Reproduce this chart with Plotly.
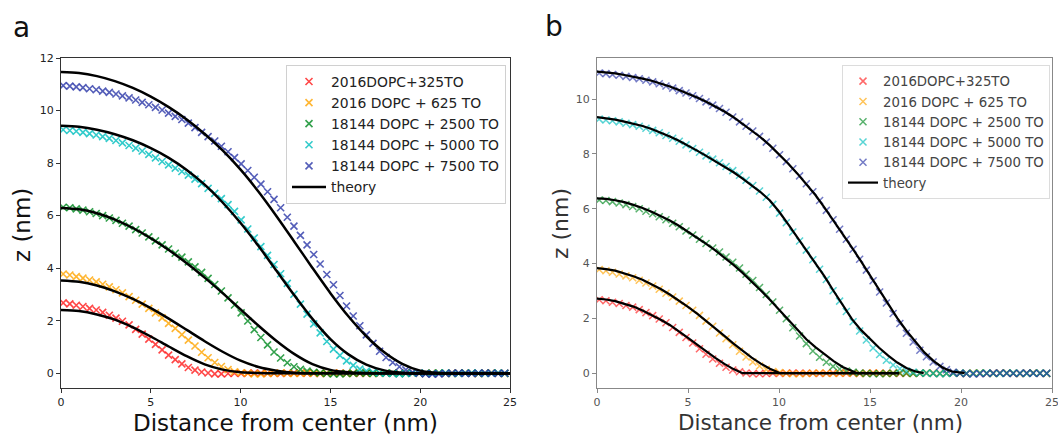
import plotly.graph_objects as go

# ---------------- data ----------------
X = [0.12, 0.49, 0.85, 1.22, 1.59, 1.96, 2.32, 2.69, 3.06, 3.42, 3.79, 4.16, 4.52, 4.89,
     5.26, 5.63, 5.99, 6.36, 6.73, 7.09, 7.46, 7.83, 8.19, 8.56, 8.93, 9.30, 9.66, 10.03,
     10.40, 10.76, 11.13, 11.50, 11.86, 12.23, 12.60, 12.97, 13.33, 13.70, 14.07, 14.43,
     14.80, 15.17, 15.53, 15.90, 16.27, 16.64, 17.00, 17.37, 17.74, 18.10, 18.47, 18.84,
     19.20, 19.57, 19.94, 20.30, 20.67, 21.04, 21.41, 21.77, 22.14, 22.51, 22.87, 23.24,
     23.61, 23.97, 24.34, 24.71]

red_z = [2.68, 2.64, 2.59, 2.54, 2.47, 2.41, 2.32, 2.21, 2.10, 1.98, 1.84, 1.67, 1.49, 1.30,
         1.10, 0.89, 0.69, 0.52, 0.36, 0.22, 0.12, 0.05, 0.01, -0.02, -0.02, -0.01,
         0.00, -0.01, 0.00, 0.01, 0.00, 0.00, 0.00, -0.01, 0.00, 0.01, 0.00, 0.00,
         0.00, -0.01, 0.00, 0.01, 0.00, 0.00, 0.00, -0.01, 0.00, 0.01, 0.00, 0.00,
         0.00, -0.01, 0.00, 0.01, 0.00, 0.00, 0.00, -0.01, 0.00, 0.01, 0.00, 0.00,
         0.00, -0.01, 0.00, 0.01, 0.00, 0.00]
orange_z = [3.78, 3.74, 3.68, 3.62, 3.55, 3.48, 3.39, 3.29, 3.18, 3.06, 2.92, 2.78, 2.63, 2.47,
            2.30, 2.11, 1.90, 1.71, 1.47, 1.26, 1.04, 0.80, 0.59, 0.41, 0.26, 0.14, 0.06,
            0.02, 0.00, -0.02, -0.02, -0.01, 0.00, 0.01, 0.00, -0.01, 0.00, 0.01, 0.00,
            -0.01, 0.00, 0.01, 0.00, -0.01, 0.00, 0.01, 0.00, -0.01, 0.00, 0.01, 0.00,
            -0.01, 0.00, 0.01, 0.00, -0.01, 0.00, 0.01, 0.00, -0.01, 0.00, 0.01, 0.00,
            -0.01, 0.00, 0.01, 0.00, -0.01]
green_z = [6.32, 6.30, 6.26, 6.21, 6.15, 6.08, 6.00, 5.91, 5.82, 5.71, 5.60, 5.47, 5.34, 5.19,
           5.04, 4.89, 4.73, 4.57, 4.42, 4.24, 4.05, 3.84, 3.61, 3.38, 3.13, 2.87, 2.60,
           2.30, 1.99, 1.66, 1.36, 1.08, 0.81, 0.58, 0.40, 0.25, 0.15, 0.08, 0.04, 0.01,
           -0.01, -0.02, -0.02, -0.01, 0.00, 0.01, 0.00, -0.01, 0.00, 0.01, 0.00, -0.01,
           0.00, 0.01, 0.00, -0.01, 0.00, 0.01, 0.00, -0.01, 0.00, 0.01, 0.00, -0.01,
           0.00, 0.01, 0.00, -0.01]
cyan_z = [9.27, 9.24, 9.21, 9.17, 9.12, 9.07, 9.01, 8.94, 8.86, 8.77, 8.67, 8.57, 8.46, 8.33,
          8.20, 8.06, 7.93, 7.81, 7.68, 7.54, 7.39, 7.22, 7.04, 6.85, 6.65, 6.42, 6.16,
          5.84, 5.49, 5.15, 4.82, 4.49, 4.14, 3.79, 3.42, 3.01, 2.63, 2.25, 1.88, 1.54,
          1.21, 0.92, 0.68, 0.47, 0.30, 0.16, 0.08, 0.04, 0.01, 0.00, -0.01, -0.02,
          -0.01, 0.00, 0.01, 0.00, -0.01, 0.00, 0.01, 0.00, -0.01, 0.00, 0.01, 0.00,
          -0.01, 0.00, 0.01, 0.00]
blue_z = [10.95, 10.93, 10.90, 10.87, 10.83, 10.79, 10.74, 10.69, 10.63, 10.56, 10.48, 10.40,
          10.31, 10.22, 10.12, 10.02, 9.90, 9.78, 9.66, 9.52, 9.35, 9.17, 9.01, 8.84, 8.64,
          8.43, 8.21, 7.97, 7.72, 7.46, 7.20, 6.91, 6.62, 6.30, 5.94, 5.60, 5.25, 4.89,
          4.52, 4.16, 3.76, 3.37, 2.96, 2.56, 2.18, 1.81, 1.46, 1.14, 0.84, 0.60, 0.41,
          0.25, 0.13, 0.04, 0.00, -0.02, -0.03, -0.02, -0.01, 0.00, 0.01, 0.00, -0.01,
          0.00, 0.01, 0.00, -0.01, 0.00]

series_names = ["2016DOPC+325TO", "2016 DOPC + 625 TO", "18144 DOPC + 2500 TO",
                "18144 DOPC + 5000 TO", "18144 DOPC + 7500 TO"]
series_z = [red_z, orange_z, green_z, cyan_z, blue_z]
series_colors = ["#ff1a1a", "#ffa500", "#008a20", "#00bfbf", "#2a36a8"]

# theory curves, panel a
TA_X = [0, 1, 2, 3, 4, 5, 6, 7, 8, 9, 10, 11, 12, 13, 14, 15, 16, 17, 18, 19, 20, 21, 22, 25]
ta_red = [2.41, 2.37, 2.24, 2.04, 1.75, 1.40, 1.02, 0.65, 0.34, 0.14, 0.04, 0.01,
          0.00, 0.00, 0.00, 0.00, 0.00, 0.00, 0.00, 0.00, 0.00, 0.00, 0.00, 0.00]
ta_orange = [3.53, 3.48, 3.34, 3.12, 2.83, 2.48, 2.08, 1.65, 1.22, 0.82, 0.48, 0.24,
             0.10, 0.02, 0.00, 0.00, 0.00, 0.00, 0.00, 0.00, 0.00, 0.00, 0.00, 0.00]
ta_green = [6.29, 6.24, 6.09, 5.85, 5.53, 5.14, 4.69, 4.19, 3.64, 3.05, 2.43, 1.81,
            1.23, 0.73, 0.35, 0.13, 0.04, 0.01, 0.00, 0.00, 0.00, 0.00, 0.00, 0.00]
ta_cyan = [9.42, 9.38, 9.27, 9.10, 8.87, 8.57, 8.20, 7.74, 7.18, 6.50, 5.72, 4.84,
           3.90, 2.96, 2.07, 1.30, 0.72, 0.33, 0.11, 0.02, 0.00, 0.00, 0.00, 0.00]
ta_blue = [11.47, 11.43, 11.31, 11.12, 10.86, 10.53, 10.13, 9.66, 9.11, 8.48, 7.75, 6.91,
           5.98, 5.00, 4.01, 3.05, 2.17, 1.41, 0.80, 0.36, 0.10, 0.01, 0.00, 0.00]

# theory curves, panel b
tb_red_x = [0, 0.5, 1, 1.5, 2, 2.5, 3, 3.5, 4, 4.5, 5, 5.5, 6, 6.5, 7, 7.5, 8.0, 16.6]
tb_red_z = [2.72, 2.69, 2.63, 2.54, 2.43, 2.29, 2.13, 1.95, 1.76, 1.54, 1.29, 1.04, 0.79,
            0.56, 0.34, 0.15, 0.00, 0.00]
tb_orange_x = [0, 0.5, 1, 1.5, 2, 2.5, 3, 3.5, 4, 4.5, 5, 5.5, 6, 6.5, 7, 7.5, 8, 8.5, 9,
               9.5, 10.07, 16.6]
tb_orange_z = [3.83, 3.80, 3.74, 3.65, 3.54, 3.41, 3.25, 3.07, 2.87, 2.65, 2.42, 2.17, 1.91,
               1.64, 1.36, 1.08, 0.82, 0.57, 0.35, 0.16, 0.00, 0.00]
tb_green_x = [0, 0.5, 1, 1.5, 2, 2.5, 3, 3.5, 4, 4.5, 5, 5.5, 6, 6.5, 7, 7.5, 8, 8.5, 9,
              9.5, 10, 10.5, 11, 11.5, 12, 12.5, 13, 13.5, 14, 14.3, 16.6]
tb_green_z = [6.38, 6.36, 6.31, 6.24, 6.14, 6.03, 5.89, 5.74, 5.57, 5.38, 5.17, 4.95, 4.72,
              4.48, 4.22, 3.95, 3.66, 3.35, 3.02, 2.68, 2.32, 1.93, 1.57, 1.24, 0.95, 0.68,
              0.44, 0.23, 0.07, 0.00, 0.00]
tb_cyan_x = [0, 0.5, 1, 1.5, 2, 2.5, 3, 3.5, 4, 4.5, 5, 5.5, 6, 6.5, 7, 7.5, 8, 8.5, 9,
             9.5, 10, 10.5, 11, 11.5, 12, 12.5, 13, 13.5, 14, 14.5, 15, 15.5, 16, 16.5, 17,
             17.5, 17.95]
tb_cyan_z = [9.34, 9.30, 9.25, 9.18, 9.11, 9.02, 8.91, 8.78, 8.64, 8.48, 8.31, 8.12, 7.93,
             7.74, 7.54, 7.33, 7.10, 6.86, 6.60, 6.30, 5.90, 5.44, 4.96, 4.49, 4.02, 3.53,
             3.00, 2.47, 1.98, 1.58, 1.24, 0.93, 0.64, 0.39, 0.19, 0.06, 0.00]
tb_blue_x = [0, 0.5, 1, 1.5, 2, 2.5, 3, 3.5, 4, 4.5, 5, 5.5, 6, 6.5, 7, 7.5, 8, 8.5, 9,
             9.5, 10, 10.5, 11, 11.5, 12, 12.5, 13, 13.5, 14, 14.5, 15, 15.5, 16, 16.5, 17,
             17.5, 18, 18.5, 19, 19.5, 20.2]
tb_blue_z = [11.00, 10.98, 10.94, 10.88, 10.82, 10.75, 10.67, 10.57, 10.46, 10.33, 10.20,
             10.06, 9.90, 9.73, 9.55, 9.34, 9.10, 8.86, 8.60, 8.31, 7.99, 7.65, 7.29, 6.91,
             6.50, 6.04, 5.57, 5.08, 4.59, 4.09, 3.57, 3.04, 2.51, 2.01, 1.55, 1.13, 0.75,
             0.44, 0.20, 0.06, 0.00]

X_TICKS = [0, 5, 10, 15, 20, 25]
YA_TICKS = [0, 2, 4, 6, 8, 10, 12]
YB_TICKS = [0, 2, 4, 6, 8, 10]

for z in series_z:
    assert len(z) == len(X), len(z)
for t in (ta_red, ta_orange, ta_green, ta_cyan, ta_blue):
    assert len(t) == len(TA_X), len(t)
for tx, tz in ((tb_red_x, tb_red_z), (tb_orange_x, tb_orange_z), (tb_green_x, tb_green_z),
               (tb_cyan_x, tb_cyan_z), (tb_blue_x, tb_blue_z)):
    assert len(tx) == len(tz), (len(tx), len(tz))

FONT = "DejaVu Sans"
W, H = 1058, 436

fig = go.Figure()

# ---------- panel a ----------
for name, z, c in zip(series_names, series_z, series_colors):
    fig.add_trace(go.Scatter(
        x=X, y=z, mode="markers", name=name, xaxis="x", yaxis="y", legend="legend",
        marker=dict(symbol="x-thin", size=7, color=c, opacity=0.8,
                    line=dict(width=1.6, color=c))))
for i, tz in enumerate((ta_red, ta_orange, ta_green, ta_cyan, ta_blue)):
    fig.add_trace(go.Scatter(
        x=TA_X, y=tz, mode="lines", name="theory", showlegend=(i == 0),
        xaxis="x", yaxis="y", legend="legend",
        line=dict(color="black", width=2.5, shape="spline", smoothing=0.8)))

# ---------- panel b ----------
for name, z, c in zip(series_names, series_z, series_colors):
    fig.add_trace(go.Scatter(
        x=X, y=z, mode="markers", name=name, xaxis="x2", yaxis="y2", legend="legend2",
        marker=dict(symbol="x-thin", size=7, color=c, opacity=0.65,
                    line=dict(width=1.5, color=c))))
for i, (tx, tz) in enumerate(((tb_red_x, tb_red_z), (tb_orange_x, tb_orange_z),
                              (tb_green_x, tb_green_z), (tb_cyan_x, tb_cyan_z),
                              (tb_blue_x, tb_blue_z))):
    fig.add_trace(go.Scatter(
        x=tx, y=tz, mode="lines", name="theory", showlegend=(i == 0),
        xaxis="x2", yaxis="y2", legend="legend2",
        line=dict(color="black", width=2.2)))


def px_x(p):
    return p / W


def px_y(p):
    return (H - p) / H


ax_common = dict(showgrid=False, zeroline=False, showline=True, mirror=True,
                 ticks="outside", ticklen=4, tickwidth=1, ticklabeloverflow="allow")
ydom = [px_y(388), px_y(58)]

fig.update_layout(
    width=W, height=H, margin=dict(l=0, r=0, t=0, b=0, autoexpand=False),
    paper_bgcolor="white", plot_bgcolor="white",
    font=dict(family=FONT, color="#222"),
    xaxis=dict(domain=[px_x(61), px_x(510)], range=[0, 25], tickvals=X_TICKS,
               anchor="y", linecolor="#333", tickcolor="#333",
               tickfont=dict(size=11, color="#222"), **ax_common),
    yaxis=dict(domain=ydom, range=[-0.56, 12], tickvals=YA_TICKS, anchor="x",
               linecolor="#333", tickcolor="#333",
               tickfont=dict(size=11, color="#222"), **ax_common),
    xaxis2=dict(domain=[px_x(597), px_x(1052)], range=[0, 25], tickvals=X_TICKS,
                anchor="y2", linecolor="#888", tickcolor="#888",
                tickfont=dict(size=11, color="#555"), **ax_common),
    yaxis2=dict(domain=ydom, range=[-0.54, 11.5], tickvals=YB_TICKS, anchor="x2",
                linecolor="#888", tickcolor="#888",
                tickfont=dict(size=11, color="#555"), **ax_common),
    legend=dict(x=px_x(286), y=px_y(65), xanchor="left", yanchor="top",
                traceorder="normal", tracegroupgap=0, itemwidth=34,
                bgcolor="rgba(255,255,255,0.85)", bordercolor="#d0d0d0", borderwidth=1,
                font=dict(family=FONT, size=13.9, color="#222")),
    legend2=dict(x=px_x(842), y=px_y(65), xanchor="left", yanchor="top",
                 traceorder="normal", tracegroupgap=0, itemwidth=30,
                 bgcolor="rgba(255,255,255,0.85)", bordercolor="#dcdcdc", borderwidth=1,
                 font=dict(family=FONT, size=13.3, color="#444")),
    annotations=[
        dict(text="Distance from center (nm)", x=px_x(285.5), y=px_y(423), xref="paper",
             yref="paper", showarrow=False, xanchor="center", yanchor="middle",
             font=dict(family=FONT, size=23, color="#111")),
        dict(text="Distance from center (nm)", x=px_x(820.5), y=px_y(422), xref="paper",
             yref="paper", showarrow=False, xanchor="center", yanchor="middle",
             font=dict(family=FONT, size=21.5, color="#333")),
        dict(text="z (nm)", x=px_x(22), y=px_y(225), xref="paper", yref="paper",
             showarrow=False, textangle=-90, xanchor="center", yanchor="middle",
             font=dict(family=FONT, size=23, color="#111")),
        dict(text="z (nm)", x=px_x(560), y=px_y(224), xref="paper", yref="paper",
             showarrow=False, textangle=-90, xanchor="center", yanchor="middle",
             font=dict(family=FONT, size=22, color="#333")),
        dict(text="a", x=px_x(21.5), y=px_y(27), xref="paper", yref="paper",
             showarrow=False, xanchor="center", yanchor="middle",
             font=dict(family=FONT, size=28, color="#111")),
        dict(text="b", x=px_x(554), y=px_y(26.5), xref="paper", yref="paper",
             showarrow=False, xanchor="center", yanchor="middle",
             font=dict(family=FONT, size=28, color="#111")),
    ],
)

fig.write_html(
    "out.html",
    config={"displayModeBar": False},
    post_script="document.body.style.margin='0';document.body.style.padding='0';"
                "document.body.style.overflow='hidden';"
                "document.documentElement.style.overflow='hidden';",
)
